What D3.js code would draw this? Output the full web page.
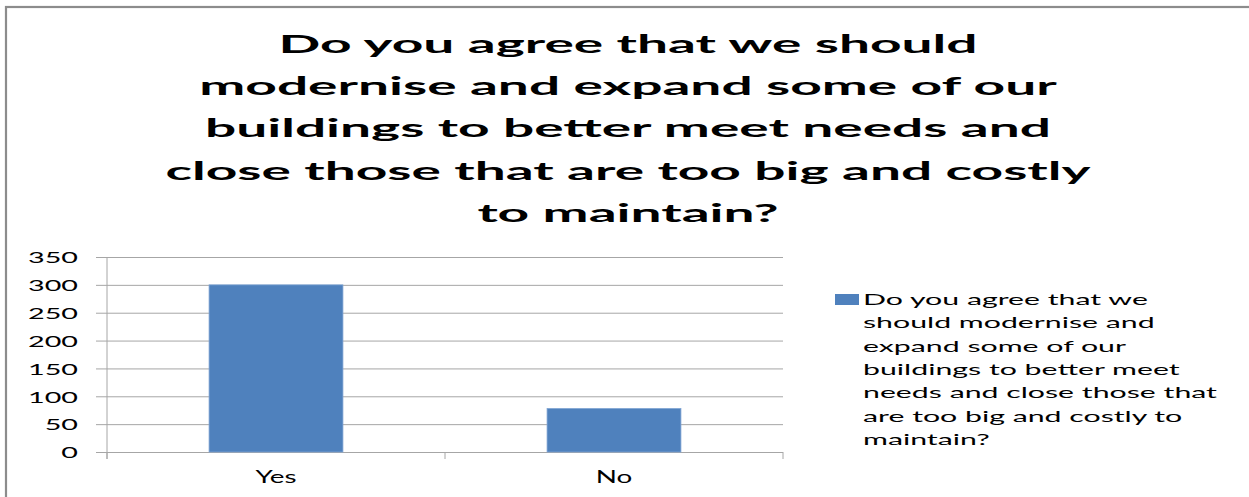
<!DOCTYPE html>
<html>
<head>
<meta charset="utf-8">
<script src="https://cdn.jsdelivr.net/npm/d3@7"></script>
<style>
  html, body { margin: 0; padding: 0; background: #fff; }
  svg { display: block; }
  text { font-family: Lato, "Open Sans", sans-serif; fill: #000; }
</style>
</head>
<body>
<svg id="chart" width="1249" height="497"></svg>
<script>
// Survey responses
const categories = ["Yes", "No"];
const responses = [300, 78];
const yTicks = [0, 50, 100, 150, 200, 250, 300, 350];
const titleLines = [
  "Do you agree that we should",
  "modernise and expand some of our",
  "buildings to better meet needs and",
  "close those that are too big and costly",
  "to maintain?"
];
const legendLines = [
  "Do you agree that we",
  "should modernise and",
  "expand some of our",
  "buildings to better meet",
  "needs and close those that",
  "are too big and costly to",
  "maintain?"
];

const svg = d3.select("#chart");
const W = 1249, H = 497;
const plot = { left: 107, right: 783, top: 257, bottom: 452 };
const barColor = "#4f81bd";
const gridColor = "#a6a6a6";

// The text in this chart is set wide; stretch each group horizontally
// so that a reference string in that group reaches the given width.
function stretch(sel, refText, refWidth) {
  let k = 1;
  sel.each(function () {
    if (this.textContent === refText) k = refWidth / this.getComputedTextLength();
  });
  sel.each(function () {
    const w = this.getComputedTextLength();
    d3.select(this).attr("textLength", w * k).attr("lengthAdjust", "spacingAndGlyphs");
  });
}

// Chart frame
svg.append("rect")
  .attr("x", 6).attr("y", 7)
  .attr("width", W + 20).attr("height", H + 20)
  .attr("fill", "#fff")
  .attr("stroke", "#8c8c8c")
  .attr("stroke-width", 2.2);

// Title
const title = svg.append("g").selectAll("text")
  .data(titleLines).join("text")
  .attr("x", 628)
  .attr("y", (d, i) => 53 + i * 42.2)
  .attr("text-anchor", "middle")
  .attr("font-size", 25)
  .attr("font-weight", 700)
  .text(d => d);
stretch(title, titleLines[3], 925);

// Scales
const x = d3.scaleBand()
  .domain(categories)
  .range([plot.left, plot.right])
  .paddingInner(0.604)
  .paddingOuter(0.302);
const y = d3.scaleLinear()
  .domain([0, 350])
  .range([plot.bottom, plot.top]);

// Horizontal gridlines with left tick marks
const yAxis = svg.append("g")
  .attr("transform", `translate(${plot.left},0)`)
  .call(d3.axisLeft(y).tickValues(yTicks).tickSize(11).tickPadding(18).tickFormat(d3.format("d")));
yAxis.select(".domain").remove();
yAxis.selectAll(".tick line").attr("stroke", gridColor);
yAxis.selectAll(".tick").append("line")
  .attr("x1", 0).attr("x2", plot.right - plot.left)
  .attr("stroke", gridColor);
const yLabels = yAxis.selectAll(".tick text")
  .attr("font-family", "Lato, sans-serif")
  .attr("font-size", 16)
  .attr("fill", "#000")
  .attr("dy", "0.36em");
stretch(yLabels, "350", 50);

// Vertical axis line
svg.append("line")
  .attr("x1", plot.left).attr("x2", plot.left)
  .attr("y1", plot.top).attr("y2", plot.bottom + 7)
  .attr("stroke", gridColor);

// Category boundary ticks on the baseline
const bounds = [plot.left, plot.left + x.step(), plot.right];
svg.append("g").selectAll("line")
  .data(bounds).join("line")
  .attr("x1", d => d).attr("x2", d => d)
  .attr("y1", plot.bottom).attr("y2", plot.bottom + 7)
  .attr("stroke", gridColor);

// Bars
svg.append("g").selectAll("rect")
  .data(categories.map((c, i) => ({ c, v: responses[i] })))
  .join("rect")
  .attr("x", d => x(d.c))
  .attr("y", d => y(d.v))
  .attr("width", x.bandwidth())
  .attr("height", d => y(0) - y(d.v))
  .attr("fill", barColor)
  .attr("stroke", "#7ea3d3")
  .attr("stroke-width", 0.8);

// Category labels
const xLabels = svg.append("g").selectAll("text")
  .data(categories).join("text")
  .attr("x", d => x(d) + x.bandwidth() / 2)
  .attr("y", 483)
  .attr("text-anchor", "middle")
  .attr("font-size", 18)
  .text(d => d);
stretch(xLabels, "Yes", 41);

// Legend
const legend = svg.append("g");
legend.append("rect")
  .attr("x", 835).attr("y", 294)
  .attr("width", 24).attr("height", 11)
  .attr("fill", barColor);
const legendText = legend.selectAll("text")
  .data(legendLines).join("text")
  .attr("x", 863)
  .attr("y", (d, i) => 305 + i * 23.3)
  .attr("font-size", 16)
  .attr("fill", "#1a1a1a")
  .text(d => d);
stretch(legendText, legendLines[4], 354);
</script>
</body>
</html>
